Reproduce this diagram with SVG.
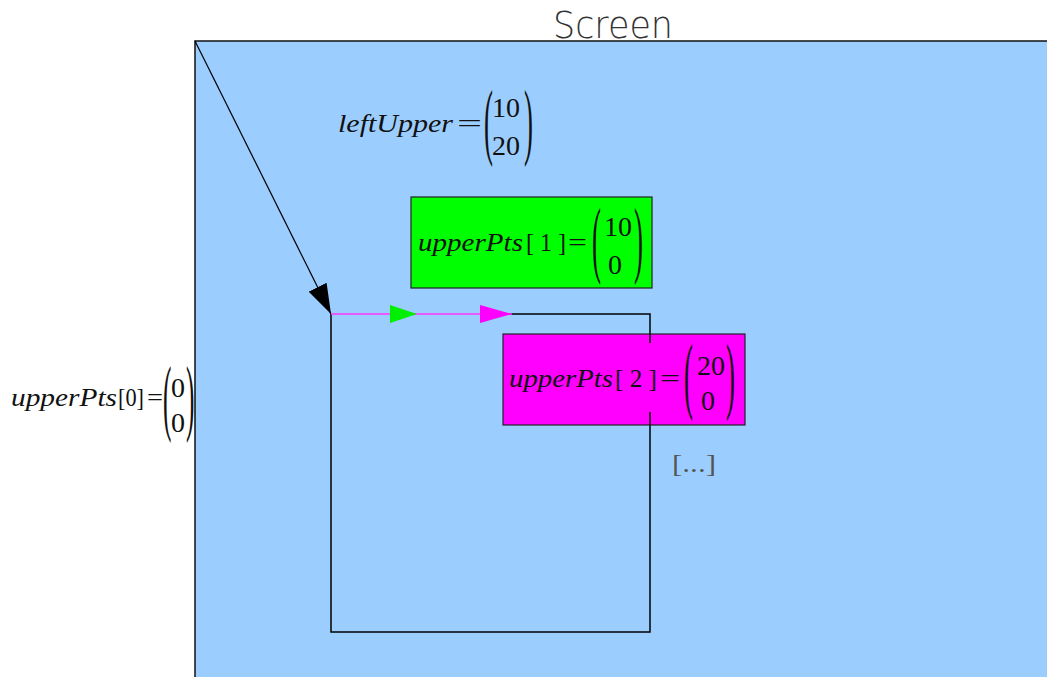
<svg xmlns="http://www.w3.org/2000/svg" width="1047" height="677" viewBox="0 0 1047 677">
<defs>
<style>
.math{font-family:"Liberation Serif","Times New Roman",serif;font-size:26px;fill:#111}
.num{font-size:28px}
.it{font-style:italic}
.paren{font-family:"Liberation Serif","Times New Roman",serif;font-size:84px;fill:#111}
.title{font-family:"DejaVu Sans","Liberation Sans",sans-serif;font-size:38px;font-weight:300;fill:#333}
</style>
<marker id="ahBlack" viewBox="0 0 30 20" refX="30" refY="10" markerWidth="30" markerHeight="20" markerUnits="userSpaceOnUse" orient="auto"><path d="M0,0 L30,10 L0,20 Z" fill="#000"/></marker>
<marker id="ahGreen" viewBox="0 0 27 18" refX="27" refY="9" markerWidth="27" markerHeight="18" markerUnits="userSpaceOnUse" orient="auto"><path d="M0,0 L27,9 L0,18 Z" fill="#00ee00"/></marker>
<marker id="ahMag" viewBox="0 0 32 18" refX="32" refY="9" markerWidth="32" markerHeight="18" markerUnits="userSpaceOnUse" orient="auto"><path d="M0,0 L32,9 L0,18 Z" fill="#ff00ff"/></marker>
</defs>
<rect width="1047" height="677" fill="#fff"/>
<g id="screen">
<rect x="195" y="41" width="900" height="700" fill="#9ccdff" stroke="#111" stroke-width="1.5"/>
<text class="title" x="553" y="38" textLength="120" lengthAdjust="spacingAndGlyphs">Screen</text>
</g>
<g id="leftUpper">
<text class="math it" x="338" y="132" textLength="115" lengthAdjust="spacingAndGlyphs">leftUpper</text>
<text class="math" x="457" y="132" textLength="25" lengthAdjust="spacingAndGlyphs">=</text>
<text class="paren" transform="translate(484,149) scale(0.32,1)">(</text>
<text class="math num" x="492" y="117">10</text>
<text class="math num" x="492" y="155">20</text>
<text class="paren" transform="translate(524,149) scale(0.32,1)">)</text>
</g>
<g id="connectors" fill="none">
<line x1="195" y1="41" x2="331" y2="314" stroke="#000" stroke-width="1.2" marker-end="url(#ahBlack)"/>
<polyline points="510,314 650,314 650,632 331,632 331,314" stroke="#000" stroke-width="1.5"/>
<line x1="331" y1="314" x2="417" y2="314" stroke="#ff33ff" stroke-width="1.5" marker-end="url(#ahGreen)"/>
<line x1="417" y1="314" x2="512" y2="314" stroke="#ff33ff" stroke-width="1.5" marker-end="url(#ahMag)"/>
</g>
<g id="upperPts1">
<rect x="411" y="197" width="241" height="91" fill="#00ff00" stroke="#222" stroke-width="1.2"/>
<text class="math it" x="418" y="251" textLength="105" lengthAdjust="spacingAndGlyphs">upperPts</text>
<text class="math" x="526" y="251" textLength="40" lengthAdjust="spacingAndGlyphs">[ 1 ]</text>
<text class="math" x="568" y="251" textLength="19" lengthAdjust="spacingAndGlyphs">=</text>
<text class="paren" transform="translate(592,267) scale(0.32,1)">(</text>
<text class="math num" x="604" y="236">10</text>
<text class="math num" x="608" y="274">0</text>
<text class="paren" transform="translate(634,267) scale(0.32,1)">)</text>
</g>
<g id="upperPts2">
<rect x="503" y="334" width="242" height="91" fill="#ff00ff" stroke="#222" stroke-width="1.2"/>
<line x1="650" y1="334" x2="650" y2="343" stroke="#000" stroke-width="1.5"/>
<line x1="650" y1="412" x2="650" y2="425" stroke="#000" stroke-width="1.5"/>
<text class="math it" x="509" y="387" textLength="104" lengthAdjust="spacingAndGlyphs">upperPts</text>
<text class="math" x="615" y="387" textLength="42" lengthAdjust="spacingAndGlyphs">[ 2 ]</text>
<text class="math" x="660" y="387" textLength="20" lengthAdjust="spacingAndGlyphs">=</text>
<text class="paren" transform="translate(684,403) scale(0.32,1)">(</text>
<text class="math num" x="697" y="375">20</text>
<text class="math num" x="701" y="410">0</text>
<text class="paren" transform="translate(726,403) scale(0.32,1)">)</text>
</g>
<g id="upperPts0">
<text class="math it" x="11" y="406" textLength="106" lengthAdjust="spacingAndGlyphs">upperPts</text>
<text class="math" x="118" y="406" textLength="26" lengthAdjust="spacingAndGlyphs">[0]</text>
<text class="math" x="147" y="406" textLength="16" lengthAdjust="spacingAndGlyphs">=</text>
<text class="paren" transform="translate(163,425) scale(0.3,1)">(</text>
<text class="math num" x="171" y="397">0</text>
<text class="math num" x="171" y="432">0</text>
<text class="paren" transform="translate(186,425) scale(0.3,1)">)</text>
</g>
<g id="more">
<text class="math" x="672" y="472" style="fill:#555" textLength="44" lengthAdjust="spacingAndGlyphs">[...]</text>
</g>
</svg>
